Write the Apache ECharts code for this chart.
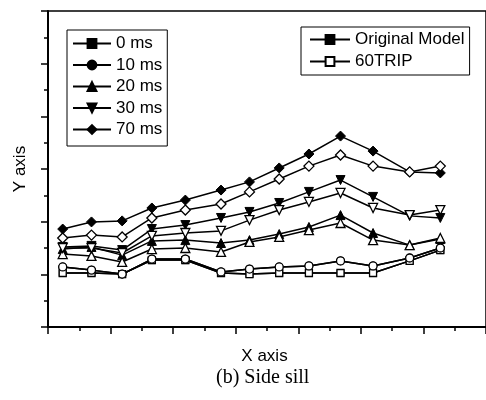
<!DOCTYPE html>
<html>
<head>
<meta charset="utf-8">
<script src="https://cdn.jsdelivr.net/npm/echarts@6/dist/echarts.min.js"></script>
<style>html,body{margin:0;padding:0;background:#fff;}#c{width:486px;height:400px;}</style>
</head>
<body>
<div id="c"></div>
<script>
// x positions (arbitrary units, axis shows no labels)
const xs = [0.47, 1.39, 2.37, 3.32, 4.39, 5.53, 6.44, 7.39, 8.34, 9.35, 10.39, 11.56, 12.54];
// Original Model (filled markers)
const orig0  = [2.05, 2.05, 2.01, 2.54, 2.54, 2.05, 2.01, 2.05, 2.05, 2.05, 2.05, 2.51, 2.92];
const orig10 = [2.28, 2.16, 2.01, 2.58, 2.58, 2.09, 2.20, 2.28, 2.32, 2.51, 2.32, 2.62, 3.00];
const orig20 = [2.96, 3.04, 2.73, 3.27, 3.30, 3.19, 3.30, 3.53, 3.80, 4.25, 3.57, 3.11, 3.34];
const orig30 = [3.04, 3.08, 2.92, 3.72, 3.87, 4.14, 4.37, 4.71, 5.13, 5.58, 4.94, 4.22, 4.14];
const orig70 = [3.72, 3.99, 4.03, 4.52, 4.82, 5.20, 5.51, 6.04, 6.57, 7.25, 6.68, 5.89, 5.85];
// 60TRIP (open markers)
const trip0  = [2.05, 2.05, 2.01, 2.54, 2.54, 2.05, 2.01, 2.05, 2.05, 2.05, 2.05, 2.51, 2.92];
const trip10 = [2.28, 2.16, 2.01, 2.58, 2.58, 2.09, 2.20, 2.28, 2.32, 2.51, 2.32, 2.62, 3.00];
const trip20 = [2.77, 2.70, 2.47, 2.96, 3.00, 2.85, 3.23, 3.42, 3.68, 3.95, 3.30, 3.11, 3.38];
const trip30 = [3.00, 3.00, 2.81, 3.46, 3.57, 3.65, 4.06, 4.44, 4.75, 5.09, 4.52, 4.25, 4.44];
const trip70 = [3.38, 3.49, 3.42, 4.14, 4.44, 4.67, 5.13, 5.62, 6.11, 6.53, 6.11, 5.89, 6.11];
const delayNames = ['0 ms', '10 ms', '20 ms', '30 ms', '70 ms'];
const modelNames = ['Original Model', '60TRIP'];

const DOWN = 'path://M0,0 L10,0 L5,9 Z';
const symbols = ['rect', 'circle', 'triangle', DOWN, 'diamond'];
const sizes = [7, 8, 9, 9, 10];
const origData = [orig0, orig10, orig20, orig30, orig70];
const tripData = [trip0, trip10, trip20, trip30, trip70];

function pairs(ys) { return xs.map((x, i) => [x, ys[i]]); }

const series = [];
origData.forEach((d, i) => {
  series.push({
    name: delayNames[i], type: 'line', data: pairs(d),
    symbol: symbols[i], symbolSize: sizes[i], z: 2,
    lineStyle: { color: '#000', width: 1.5 },
    itemStyle: { color: '#000', borderColor: '#000', borderWidth: 1 }
  });
});
tripData.forEach((d, i) => {
  series.push({
    name: delayNames[i] + ' (60TRIP)', type: 'line', data: pairs(d),
    symbol: symbols[i], symbolSize: sizes[i], z: 3,
    lineStyle: { color: '#000', width: 1.5 },
    itemStyle: { color: '#fff', borderColor: '#000', borderWidth: 1.3 }
  });
});
series.push({
  name: modelNames[0], type: 'line', data: [], symbol: 'rect', symbolSize: 8,
  lineStyle: { color: '#000', width: 1.5 }, itemStyle: { color: '#000', borderColor: '#000', borderWidth: 1 }
});
series.push({
  name: modelNames[1], type: 'line', data: [], symbol: 'rect', symbolSize: 8,
  lineStyle: { color: '#000', width: 1.5 }, itemStyle: { color: '#fff', borderColor: '#000', borderWidth: 1.3 }
});

const chart = echarts.init(document.getElementById('c'), null, { renderer: 'canvas' });
const font = 'Liberation Sans';
chart.setOption({
  animation: false,
  backgroundColor: '#fff',
  title: {
    text: '(b) Side sill', left: 211, top: 363,
    textStyle: { fontFamily: 'Liberation Serif', fontSize: 20, fontWeight: 'normal', color: '#000' }
  },
  grid: { left: 48, top: 11, right: -5, bottom: 73, show: true, borderColor: '#000', borderWidth: 1.5 },
  legend: [
    {
      data: delayNames, orient: 'vertical', left: 67, top: 30,
      itemWidth: 38, itemHeight: 11, itemGap: 4.5,
      padding: [5, 5, 8, 5], borderColor: '#000', borderWidth: 1,
      textStyle: { fontFamily: font, fontSize: 17, color: '#000', lineHeight: 17 },
      selectedMode: false
    },
    {
      data: modelNames, orient: 'vertical', left: 301, top: 27,
      itemWidth: 40, itemHeight: 11, itemGap: 5,
      padding: [4, 5, 5, 8], borderColor: '#000', borderWidth: 1,
      textStyle: { fontFamily: font, fontSize: 17, color: '#000', lineHeight: 17 },
      selectedMode: false
    }
  ],
  xAxis: {
    type: 'value', min: 0, max: 14, interval: 2,
    name: 'X axis', nameLocation: 'middle', nameGap: 21,
    nameTextStyle: { fontFamily: font, fontSize: 17, color: '#000', verticalAlign: 'top', padding: [0, 5, 0, 0] },
    axisLine: { lineStyle: { color: '#000', width: 2 } },
    axisTick: { show: true, length: 7, lineStyle: { color: '#000', width: 1.5 } },
    minorTick: { show: true, splitNumber: 2, length: 4, lineStyle: { color: '#000', width: 1.5 } },
    axisLabel: { show: false },
    splitLine: { show: false }
  },
  yAxis: {
    type: 'value', min: 0, max: 12, interval: 2,
    name: 'Y axis', nameLocation: 'middle', nameGap: 19,
    nameTextStyle: { fontFamily: font, fontSize: 17, color: '#000' },
    axisLine: { lineStyle: { color: '#000', width: 2 } },
    axisTick: { show: true, length: 7, lineStyle: { color: '#000', width: 1.5 } },
    minorTick: { show: true, splitNumber: 2, length: 4, lineStyle: { color: '#000', width: 1.5 } },
    axisLabel: { show: false },
    splitLine: { show: false }
  },
  series: series
});
</script>
</body>
</html>
